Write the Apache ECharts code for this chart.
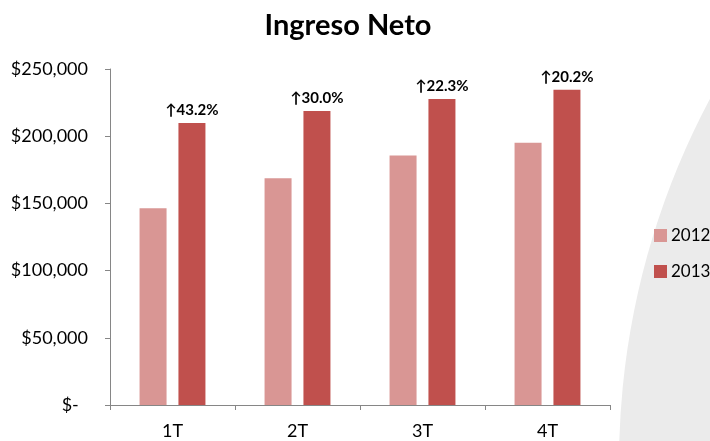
<!DOCTYPE html>
<html><head><meta charset="utf-8">
<script src="https://cdn.jsdelivr.net/npm/echarts@6/dist/echarts.min.js"></script>
<style>html,body{margin:0;padding:0;background:#fff}#c{width:710px;height:441px}</style>
</head><body><div id="c"></div>
<script>
const categories = ['1T', '2T', '3T', '4T'];
const values2012 = [146300, 168800, 185700, 195100];
const values2013 = [209800, 218800, 227700, 234600];
const growthLabels = ['43.2%', '30.0%', '22.3%', '20.2%'];
const yTicks = {0: '$-', 50000: '$50,000', 100000: '$100,000', 150000: '$150,000', 200000: '$200,000', 250000: '$250,000'};

const FONT = 'Lato, "Open Sans", "Liberation Sans", sans-serif';
const chart = echarts.init(document.getElementById('c'));
chart.setOption({
  animation: false,
  textStyle: { fontFamily: FONT },
  graphic: [{
    type: 'circle', z: -10, silent: true,
    shape: { cx: 1394, cy: 463, r: 775 },
    style: { fill: '#ebebeb' }
  }],
  title: {
    text: 'Ingreso Neto', left: 343, top: 6, textAlign: 'center',
    textStyle: { fontFamily: FONT, fontSize: 29, fontWeight: 'bold', color: '#000' }
  },
  legend: {
    orient: 'vertical', left: 649, top: 222, itemWidth: 13, itemHeight: 13, itemGap: 19,
    icon: 'rect',
    textStyle: { fontFamily: FONT, fontSize: 17, color: '#000', padding: [0, 0, 0, -1] },
    data: ['2012', '2013']
  },
  grid: { left: 110, right: 100, top: 69, bottom: 36, containLabel: false },
  xAxis: {
    type: 'category', data: categories,
    axisLine: { lineStyle: { color: '#868686', width: 1 } },
    axisTick: { show: true, length: 5, lineStyle: { color: '#868686' } },
    axisLabel: { color: '#000', fontSize: 18, fontFamily: FONT, margin: 17 }
  },
  yAxis: {
    type: 'value', min: 0, max: 250000, interval: 50000,
    splitLine: { show: false },
    axisLine: { show: true, lineStyle: { color: '#868686', width: 1 } },
    axisTick: { show: true, length: 5, lineStyle: { color: '#868686' } },
    axisLabel: { color: '#000', fontSize: 18, fontFamily: FONT, margin: 22,
      formatter: v => (v === 0 ? yTicks[v] + '  ' : yTicks[v]) }
  },
  series: [
    { name: '2012', type: 'bar', data: values2012, barWidth: 27, barGap: '44%',
      itemStyle: { color: '#d99694' } },
    { name: '2013', type: 'bar', data: values2013, barWidth: 27,
      itemStyle: { color: '#c0504d' },
      label: { show: true, position: 'top', distance: 5, color: '#000', fontWeight: 'bold',
        fontSize: 15, fontFamily: FONT,
        formatter: p => '\u2191' + growthLabels[p.dataIndex] } }
  ]
});
</script></body></html>
